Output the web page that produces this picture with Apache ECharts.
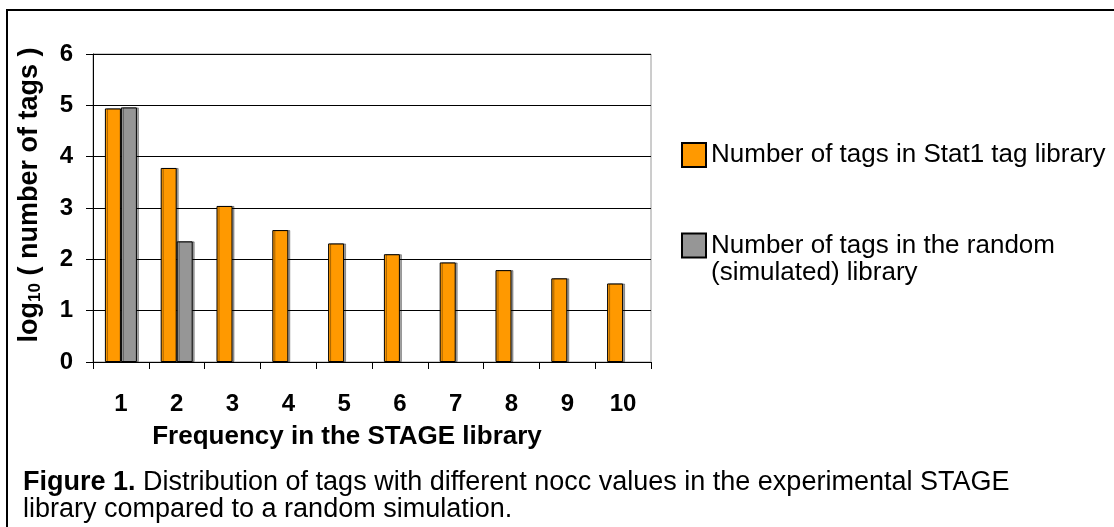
<!DOCTYPE html>
<html>
<head>
<meta charset="utf-8">
<script src="https://cdn.jsdelivr.net/npm/echarts@6/dist/echarts.min.js"></script>
<style>
  html, body { margin: 0; padding: 0; background: #fff; }
  #chart { width: 1114px; height: 527px; }
</style>
</head>
<body>
<div id="chart"></div>
<script>
// frequency classes on the x axis
const categories = ['1', '2', '3', '4', '5', '6', '7', '8', '9', '10'];
// log10 of tag counts
const stat1Values = [4.94, 3.78, 3.04, 2.57, 2.31, 2.10, 1.94, 1.79, 1.63, 1.53];
const randomValues = [4.96, 2.35, null, null, null, null, null, null, null, null];
const yTicks = { min: 0, max: 6, interval: 1 };

const stat1Name = 'Number of tags in Stat1 tag library';
const randomName = 'Number of tags in the random (simulated) library';

const font = 'Arial, "Liberation Sans", sans-serif';

const chart = echarts.init(document.getElementById('chart'));

const barStyle = (color) => ({
  color: color,
  borderColor: '#000',
  borderWidth: 1,
  shadowColor: 'rgba(0,0,0,0.35)',
  shadowOffsetX: 2,
  shadowOffsetY: 0,
  shadowBlur: 0
});

const option = {
  animation: false,
  textStyle: { fontFamily: font, color: '#000' },
  grid: {
    left: 93, right: 1114 - 651, top: 54, bottom: 527 - 362,
    show: true, borderColor: '#9a9a9a', borderWidth: 1, backgroundColor: 'transparent'
  },
  legend: [
    {
      data: [stat1Name],
      orient: 'vertical',
      left: 676, top: 137,
      itemWidth: 24, itemHeight: 24,
      icon: 'rect',
      textStyle: { fontSize: 26, fontFamily: font, color: '#000' },
      selectedMode: false
    },
    {
      data: [randomName],
      orient: 'vertical',
      left: 676, top: 227,
      // box sits in the top part of a taller icon so it lines up with the first text line
      itemWidth: 24, itemHeight: 51,
      icon: 'path://M0,0L24,0L24,24L0,24Z M0,51L0,51',
      formatter: () => 'Number of tags in the random\n(simulated) library',
      textStyle: { fontSize: 26, lineHeight: 27, fontFamily: font, color: '#000' },
      selectedMode: false
    }
  ],
  xAxis: {
    type: 'category',
    data: categories,
    axisLine: { lineStyle: { color: '#000', width: 1 } },
    axisTick: { show: true, length: 7, lineStyle: { color: '#000' } },
    axisLabel: { fontSize: 24, fontWeight: 'bold', color: '#000', margin: 30, fontFamily: font },
    name: 'Frequency in the STAGE library',
    nameLocation: 'middle',
    nameGap: 62,
    nameTextStyle: { fontSize: 26, fontWeight: 'bold', color: '#000', fontFamily: font, padding: [0, 50, 0, 0] }
  },
  yAxis: {
    type: 'value',
    min: yTicks.min, max: yTicks.max, interval: yTicks.interval,
    axisLine: { show: true, lineStyle: { color: '#000', width: 1 } },
    axisTick: { show: true, length: 7, lineStyle: { color: '#000' } },
    axisLabel: { fontSize: 24, fontWeight: 'bold', color: '#000', margin: 20, fontFamily: font },
    splitLine: { lineStyle: { color: '#000', width: 1 } },
    name: '{a|log}{s|10}{a| ( number of tags )}',
    nameLocation: 'middle',
    nameGap: 49,
    nameRotate: 90,
    nameTextStyle: {
      padding: [0, 0, 0, 26],
      rich: {
        a: { fontSize: 27, fontWeight: 'bold', fontFamily: font, color: '#000' },
        s: { fontSize: 17, fontWeight: 'bold', fontFamily: font, color: '#000', padding: [12, 0, 0, 0] }
      }
    }
  },
  series: [
    {
      name: stat1Name,
      type: 'bar',
      data: stat1Values,
      barWidth: 16,
      barGap: '0%',
      itemStyle: barStyle('#FF9900')
    },
    {
      name: randomName,
      type: 'bar',
      data: randomValues,
      barWidth: 16,
      itemStyle: barStyle('#969696')
    }
  ],
  graphic: [
    {
      type: 'rect',
      shape: { x: 7, y: 10, width: 1130, height: 540 },
      style: { fill: 'none', stroke: '#000', lineWidth: 2 },
      silent: true
    },
    {
      type: 'text',
      left: 23, top: 469,
      style: {
        text: '{b|Figure 1.} Distribution of tags with different nocc values in the experimental STAGE\nlibrary compared to a random simulation.',
        font: '27px ' + font,
        fill: '#000',
        lineHeight: 27,
        rich: {
          b: { fontWeight: 'bold', fontSize: 27, fontFamily: font, fill: '#000' }
        }
      }
    }
  ]
};

chart.setOption(option);
</script>
</body>
</html>
